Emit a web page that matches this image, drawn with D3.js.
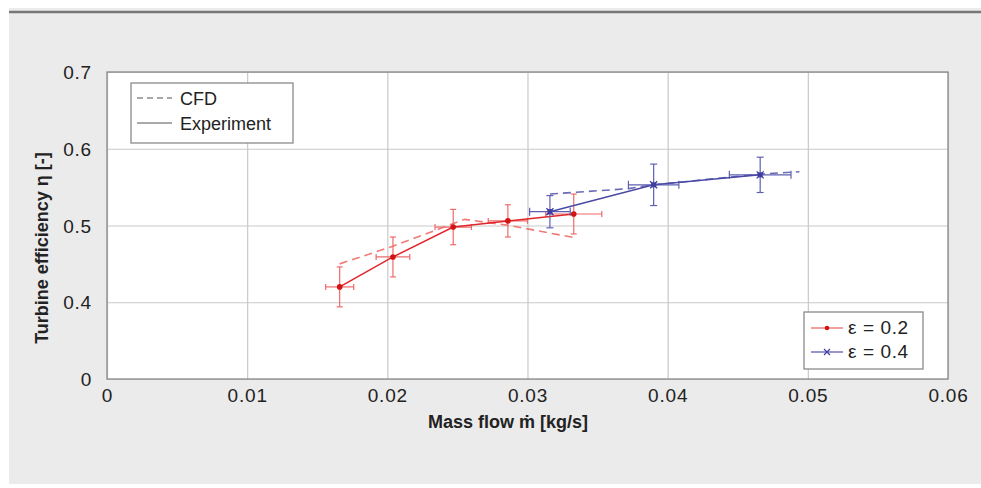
<!DOCTYPE html>
<html>
<head>
<meta charset="utf-8">
<script src="https://cdn.jsdelivr.net/npm/d3@7/dist/d3.min.js"></script>
<style>
  html, body { margin: 0; padding: 0; background: #ffffff; }
  svg { display: block; }
  text { font-family: "Liberation Sans", Arial, sans-serif; fill: #222; }
</style>
</head>
<body>
<svg id="chart" width="981" height="488"></svg>
<script>
// ---------- data ----------
const xTicks = [0, 0.01, 0.02, 0.03, 0.04, 0.05, 0.06];
const xTickLabels = ["0", "0.01", "0.02", "0.03", "0.04", "0.05", "0.06"];
const yTicks = [0.3, 0.4, 0.5, 0.6, 0.7];
const yTickLabels = ["0", "0.4", "0.5", "0.6", "0.7"];

// epsilon = 0.2 experiment
const flowRed = [0.0166, 0.0204, 0.0247, 0.0286, 0.0333];
const effRed = [0.420, 0.459, 0.498, 0.506, 0.515];
const effErrRed = [0.026, 0.026, 0.023, 0.021, 0.026];
const flowErrRed = [0.0010, 0.0012, 0.0013, 0.0014, 0.0020];
// epsilon = 0.2 CFD
const cfdFlowRed = [0.0166, 0.0204, 0.0255, 0.0287, 0.0334];
const cfdEffRed = [0.450, 0.473, 0.508, 0.500, 0.484];

// epsilon = 0.4 experiment
const flowBlue = [0.0316, 0.0390, 0.0466];
const effBlue = [0.518, 0.553, 0.566];
const effErrBlue = [0.021, 0.027, 0.023];
const flowErrBlue = [0.00145, 0.0018, 0.0022];
// epsilon = 0.4 CFD
const cfdFlowBlue = [0.0316, 0.0372, 0.0390, 0.0466, 0.0494];
const cfdEffBlue = [0.541, 0.548, 0.553, 0.567, 0.570];

const legendTypes = ["CFD", "Experiment"];
const legendSeries = ["ε = 0.2", "ε = 0.4"];

// ---------- layout ----------
const svg = d3.select("#chart");
const L = 107, R = 948, T = 72, B = 379;
const x = d3.scaleLinear().domain([0, 0.06]).range([L, R]);
const y = d3.scaleLinear().domain([0.3, 0.7]).range([B, T]);

const RED = "#e0262a", RED_LIGHT = "#ee6b6b", RED_DASH = "#f07a76";
const BLUE = "#4a4aa6", BLUE_LIGHT = "#5f5fb3", BLUE_DASH = "#6a6ab8";

// background panel
svg.append("rect").attr("x", 0).attr("y", 0).attr("width", 981).attr("height", 488).attr("fill", "#ffffff");
svg.append("rect").attr("x", 9).attr("y", 8).attr("width", 972).attr("height", 476).attr("fill", "#ebebeb");
svg.append("line").attr("x1", 9).attr("x2", 981).attr("y1", 12).attr("y2", 12)
  .attr("stroke", "#777").attr("stroke-width", 2.5);

// plot area
svg.append("rect").attr("x", L).attr("y", T).attr("width", R - L).attr("height", B - T).attr("fill", "#fff");

// grid via axes
const gx = svg.append("g").attr("transform", `translate(0,${B})`)
  .call(d3.axisBottom(x).tickValues(xTicks).tickSize(-(B - T)).tickFormat((d, i) => xTickLabels[i]));
gx.select(".domain").remove();
gx.selectAll(".tick line").attr("stroke", "#c9c9c9").attr("stroke-width", 1.2);
gx.selectAll(".tick text").attr("y", 0).attr("dy", 0).attr("transform", "translate(0,23)")
  .style("font-size", "19px").style("letter-spacing", "0.8px").attr("fill", "#222");

const gy = svg.append("g").attr("transform", `translate(${L},0)`)
  .call(d3.axisLeft(y).tickValues(yTicks).tickSize(-(R - L)).tickFormat((d, i) => yTickLabels[i]));
gy.select(".domain").remove();
gy.selectAll(".tick line").attr("stroke", "#c9c9c9").attr("stroke-width", 1.2);
gy.selectAll(".tick text").attr("x", -15).attr("dy", "0.35em")
  .style("font-size", "19px").style("letter-spacing", "0.8px").attr("fill", "#222");

// frame
svg.append("rect").attr("x", L).attr("y", T).attr("width", R - L).attr("height", B - T)
  .attr("fill", "none").attr("stroke", "#8a8a8a").attr("stroke-width", 1.3);

// axis titles
svg.append("text").attr("x", 508).attr("y", 428).attr("text-anchor", "middle")
  .style("font-size", "18px").style("font-weight", "bold").text("Mass flow ṁ [kg/s]");
svg.append("text").attr("transform", "translate(48,248) rotate(-90)").attr("text-anchor", "middle")
  .style("font-size", "18px").style("font-weight", "bold").text("Turbine efficiency η [-]");

// ---------- series ----------
const line = d3.line().x(d => x(d[0])).y(d => y(d[1]));

function drawSeries(flow, eff, flowErr, effErr, cfdFlow, cfdEff, col, colLight, colDash, capV, capH, marker) {
  const g = svg.append("g");
  const cfd = cfdFlow.map((f, i) => [f, cfdEff[i]]);
  g.append("path").datum(cfd).attr("d", line).attr("fill", "none")
    .attr("stroke", colDash).attr("stroke-width", 1.6).attr("stroke-dasharray", "8,5");
  const pts = flow.map((f, i) => ({ f, e: eff[i], fe: flowErr[i], ee: effErr[i] }));
  // error bars
  pts.forEach(p => {
    const cx = x(p.f), cy = y(p.e);
    const y0 = y(p.e - p.ee), y1 = y(p.e + p.ee);
    const x0 = x(p.f - p.fe), x1 = x(p.f + p.fe);
    const eb = g.append("g").attr("stroke", colLight).attr("stroke-width", 1.2);
    eb.append("line").attr("x1", cx).attr("x2", cx).attr("y1", y0).attr("y2", y1);
    eb.append("line").attr("x1", cx - capV).attr("x2", cx + capV).attr("y1", y0).attr("y2", y0);
    eb.append("line").attr("x1", cx - capV).attr("x2", cx + capV).attr("y1", y1).attr("y2", y1);
    eb.append("line").attr("x1", x0).attr("x2", x1).attr("y1", cy).attr("y2", cy);
    eb.append("line").attr("x1", x0).attr("x2", x0).attr("y1", cy - capH).attr("y2", cy + capH);
    eb.append("line").attr("x1", x1).attr("x2", x1).attr("y1", cy - capH).attr("y2", cy + capH);
  });
  g.append("path").datum(pts.map(p => [p.f, p.e])).attr("d", line).attr("fill", "none")
    .attr("stroke", col).attr("stroke-width", 1.5);
  pts.forEach(p => marker(g, x(p.f), y(p.e)));
}

function dotMarker(g, cx, cy) {
  g.append("circle").attr("cx", cx).attr("cy", cy).attr("r", 2.8).attr("fill", "#d41414");
}
function crossMarker(g, cx, cy) {
  g.append("rect").attr("x", cx - 2.5).attr("y", cy - 2.5).attr("width", 5).attr("height", 5).attr("fill", "#3f3fa0");
  g.append("path").attr("d", `M${cx - 3.5},${cy - 3.5}L${cx + 3.5},${cy + 3.5}M${cx - 3.5},${cy + 3.5}L${cx + 3.5},${cy - 3.5}`)
    .attr("stroke", "#3f3fa0").attr("stroke-width", 1.3);
}

drawSeries(flowRed, effRed, flowErrRed, effErrRed, cfdFlowRed, cfdEffRed, RED, RED_LIGHT, RED_DASH, 3, 3, dotMarker);
drawSeries(flowBlue, effBlue, flowErrBlue, effErrBlue, cfdFlowBlue, cfdEffBlue, BLUE, BLUE_LIGHT, BLUE_DASH, 3.5, 4, crossMarker);

// ---------- legends ----------
const lg1 = svg.append("g");
lg1.append("rect").attr("x", 131).attr("y", 83).attr("width", 162).attr("height", 60)
  .attr("fill", "#fff").attr("stroke", "#8a8a8a").attr("stroke-width", 1.3);
legendTypes.forEach((t, i) => {
  const yy = 98 + i * 25;
  lg1.append("line").attr("x1", 137).attr("x2", 172).attr("y1", yy).attr("y2", yy)
    .attr("stroke", "#8c8c8c").attr("stroke-width", 1.4).attr("stroke-dasharray", i === 0 ? "6,4" : null);
  lg1.append("text").attr("x", 180).attr("y", yy + 7).style("font-size", "18px").text(t);
});

const lg2 = svg.append("g");
lg2.append("rect").attr("x", 804).attr("y", 312).attr("width", 119).attr("height", 57)
  .attr("fill", "#fff").attr("stroke", "#8a8a8a").attr("stroke-width", 1.3);
legendSeries.forEach((t, i) => {
  const yy = 328 + i * 24;
  lg2.append("line").attr("x1", 811).attr("x2", 843).attr("y1", yy).attr("y2", yy)
    .attr("stroke", i === 0 ? RED_LIGHT : BLUE_LIGHT).attr("stroke-width", 1.3);
  if (i === 0) {
    lg2.append("circle").attr("cx", 827).attr("cy", yy).attr("r", 2.3).attr("fill", "#d41414");
  } else {
    lg2.append("path").attr("d", `M824,${yy - 3}L830,${yy + 3}M824,${yy + 3}L830,${yy - 3}`)
      .attr("stroke", "#3f3fa0").attr("stroke-width", 1.2);
  }
  lg2.append("text").attr("x", 848).attr("y", yy + 6).style("font-size", "19px").style("letter-spacing", "0.6px").text(t);
});
</script>
</body>
</html>
